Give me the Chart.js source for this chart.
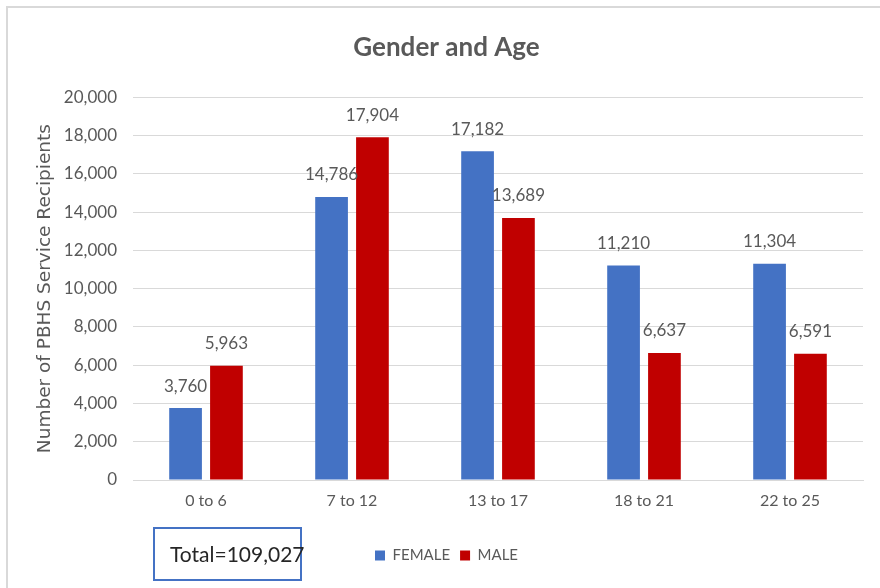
<!DOCTYPE html>
<html>
<head>
<meta charset="utf-8">
<script src="https://cdn.jsdelivr.net/npm/chart.js@4/dist/chart.umd.min.js"></script>
<style>
  body { margin: 0; background: #fff; }
  #wrap { position: relative; width: 880px; height: 588px; overflow: hidden; }
  #frame { position: absolute; left: 6px; top: 6px; width: 1000px; height: 1000px;
           border-left: 2px solid #d9d9d9; border-top: 2px solid #d9d9d9; }
  #total { position: absolute; left: 153px; top: 527px; width: 149px; height: 54px;
           box-sizing: border-box; border: 2px solid #4472C4; font-family: Lato, sans-serif;
           font-size: 21px; color: #262626; line-height: 50px; padding-left: 15px; white-space: nowrap; }
  canvas { position: absolute; left: 0; top: 0; }
</style>
</head>
<body>
<div id="wrap">
  <div id="frame"></div>
  <canvas id="myChart" width="880" height="588"></canvas>
  <div id="total">Total=109,027</div>
</div>
<script>
var categories = ['0 to 6', '7 to 12', '13 to 17', '18 to 21', '22 to 25'];
var female = [3760, 14786, 17182, 11210, 11304];
var male = [5963, 17904, 13689, 6637, 6591];
var y_max = 20000;
var y_step = 2000;

var FONT = 'Lato, sans-serif';
var GRAY = '#595959';

function fmt(v) {
  return Number(v).toLocaleString('en-US');
}

// values above the bars
var bar_labels = {
  id: 'bar_labels',
  afterDatasetsDraw(chart) {
    var ctx = chart.ctx;
    ctx.save();
    ctx.font = '17px ' + FONT;
    ctx.fillStyle = GRAY;
    ctx.textAlign = 'center';
    ctx.textBaseline = 'middle';
    chart.data.datasets.forEach(function(ds, i) {
      var meta = chart.getDatasetMeta(i);
      meta.data.forEach(function(bar, j) {
        ctx.fillText(fmt(ds.data[j]), bar.x, bar.y - 22);
      });
    });
    ctx.restore();
  }
};

const data = {
  labels: categories,
  datasets: [
    { label: 'FEMALE', data: female, backgroundColor: '#4472C4' },
    { label: 'MALE', data: male, backgroundColor: '#C00000' }
  ]
};

const config = {
  type: 'bar',
  data,
  options: {
    responsive: false,
    animation: false,
    categoryPercentage: 0.56,
    barPercentage: 0.8,
    layout: { padding: { left: 30, right: 17, top: 18, bottom: 15 } },
    plugins: {
      title: {
        display: true,
        text: 'Gender and Age',
        color: GRAY,
        font: { family: FONT, size: 26, weight: 'bold' },
        padding: { top: 14, bottom: 34 }
      },
      legend: {
        position: 'bottom',
        labels: {
          boxWidth: 10, boxHeight: 10, color: GRAY, padding: 10,
          font: { family: FONT, size: 15 }
        }
      },
      tooltip: { enabled: false }
    },
    scales: {
      x: {
        grid: { display: false, drawTicks: false },
        border: { color: '#d9d9d9', width: 1 },
        ticks: { color: GRAY, font: { family: FONT, size: 16 }, padding: 11 },
        afterFit: function(s) { s.height = 58; }
      },
      y: {
        min: 0, max: y_max,
        grid: { color: '#d9d9d9', drawTicks: false },
        border: { display: false },
        ticks: {
          stepSize: y_step, color: GRAY, padding: 16,
          font: { family: FONT, size: 17 },
          callback: function(v) { return fmt(v); }
        },
        title: {
          display: true,
          text: 'Number of PBHS Service Recipients',
          color: GRAY,
          font: { family: '"DejaVu Sans", sans-serif', size: 18.5 },
          padding: { top: 4, bottom: 0 }
        },
        afterFit: function(s) { s.width = 103; }
      }
    }
  },
  plugins: [bar_labels]
};

var myChart = new Chart(document.getElementById('myChart'), config);
</script>
</body>
</html>
